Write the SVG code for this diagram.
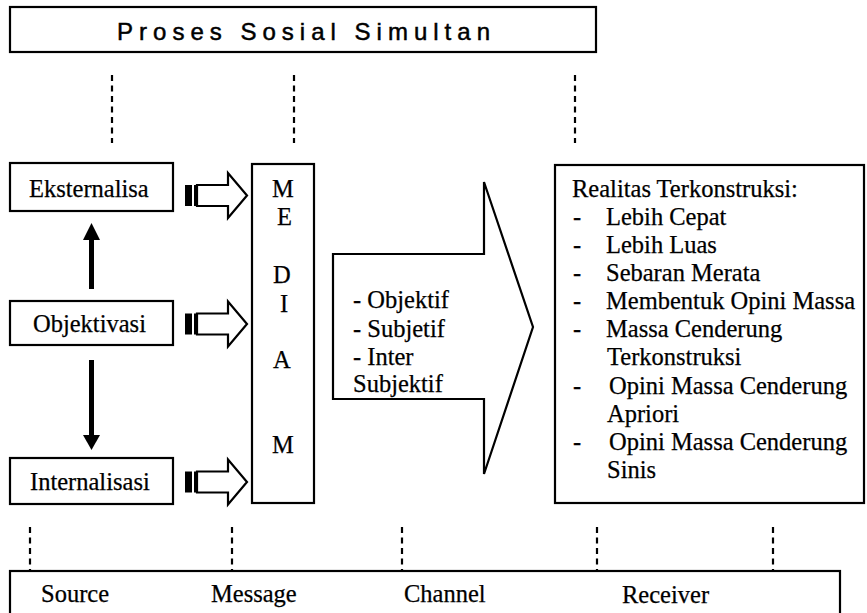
<svg xmlns="http://www.w3.org/2000/svg" width="867" height="613" viewBox="0 0 867 613">
  <style>
    .box { fill: #fff; stroke: #000; stroke-width: 2.2; }
    text { fill: #000; }
    .t { font-family: 'Liberation Serif', 'DejaVu Serif', serif; font-size: 24.5px; stroke: #000; stroke-width: 0.25; }
    .title { font-family: 'Liberation Sans Narrow', 'Liberation Sans', sans-serif; font-size: 24px; stroke: #000; stroke-width: 0.5; }
    .dash { stroke: #000; stroke-width: 2.2; stroke-dasharray: 6 4.5; fill: none; }
    .blk { fill: #000; }
    .outline { fill: #fff; stroke: #000; stroke-width: 2.2; stroke-linejoin: miter; }
  </style>
  <defs>
    <!-- striped block arrow, centred on y=0 -->
    <g id="striped-arrow">
      <rect class="blk" x="185" y="-10.5" width="7" height="21"/>
      <rect class="blk" x="194" y="-10.5" width="3" height="21"/>
      <polygon class="outline" points="197,-10.5 228,-10.5 228,-22.5 247,0 228,22.5 228,10.5 197,10.5"/>
    </g>
  </defs>
  <rect width="867" height="613" fill="#fff"/>

  <!-- header -->
  <g id="proses-sosial">
    <rect class="box" x="10" y="7" width="586" height="45" stroke-width="2.6"/>
    <text class="title" font-family="Liberation Sans Narrow, Liberation Sans, sans-serif" x="117" y="40" textLength="373" lengthAdjust="spacing">Proses Sosial Simultan</text>
  </g>

  <g font-family="Liberation Serif, DejaVu Serif, serif" font-size="24.5">
  <!-- source-side stages -->
  <g id="eksternalisa">
    <rect class="box" x="10" y="163" width="163" height="48"/>
    <text class="t" x="29" y="197">Eksternalisa</text>
  </g>
  <g id="objektivasi">
    <rect class="box" x="10" y="301" width="163" height="44"/>
    <text class="t" x="33" y="332">Objektivasi</text>
  </g>
  <g id="internalisasi">
    <rect class="box" x="10" y="458" width="163" height="46"/>
    <text class="t" x="30" y="490">Internalisasi</text>
  </g>

  <!-- media column -->
  <g id="media">
    <rect class="box" x="252" y="164" width="62" height="339"/>
    <text class="t" x="272" y="197">M</text>
    <text class="t" x="277" y="225">E</text>
    <text class="t" x="273" y="283">D</text>
    <text class="t" x="280" y="312">I</text>
    <text class="t" x="273" y="368">A</text>
    <text class="t" x="272" y="453">M</text>
  </g>

  <!-- channel arrow -->
  <g id="channel-arrow">
    <polygon class="outline" points="333,254 484,254 484,182 533,327 484,474 484,399 333,399" stroke-width="2.6"/>
    <text class="t" x="353" y="308">- Objektif</text>
    <text class="t" x="353" y="337">- Subjetif</text>
    <text class="t" x="353" y="365">- Inter</text>
    <text class="t" x="353" y="392">Subjektif</text>
  </g>

  <!-- receiver -->
  <g id="realitas">
    <rect class="box" x="555" y="165" width="309" height="338"/>
    <text class="t" x="572" y="197">Realitas Terkonstruksi:</text>
    <text class="t" x="573" y="225">-</text><text class="t" x="606" y="225">Lebih Cepat</text>
    <text class="t" x="573" y="253">-</text><text class="t" x="606" y="253">Lebih Luas</text>
    <text class="t" x="573" y="281">-</text><text class="t" x="606" y="281">Sebaran Merata</text>
    <text class="t" x="573" y="309">-</text><text class="t" x="606" y="309">Membentuk Opini Massa</text>
    <text class="t" x="573" y="337">-</text><text class="t" x="606" y="337">Massa Cenderung</text>
    <text class="t" x="607" y="365">Terkonstruksi</text>
    <text class="t" x="573" y="394">-</text><text class="t" x="609" y="394">Opini Massa Cenderung</text>
    <text class="t" x="607" y="422">Apriori</text>
    <text class="t" x="573" y="450">-</text><text class="t" x="609" y="450">Opini Massa Cenderung</text>
    <text class="t" x="607" y="478">Sinis</text>
  </g>

  <!-- footer -->
  <g id="smcr">
    <rect class="box" x="10" y="571" width="830" height="60"/>
    <text class="t" x="41" y="602">Source</text>
    <text class="t" x="211" y="602">Message</text>
    <text class="t" x="404" y="602">Channel</text>
    <text class="t" x="622" y="603">Receiver</text>
  </g>
  </g>

  <g id="connectors">
    <!-- dotted guides -->
    <line class="dash" x1="112" y1="75" x2="112" y2="143"/>
    <line class="dash" x1="294" y1="75" x2="294" y2="143"/>
    <line class="dash" x1="575" y1="75" x2="575" y2="143"/>
    <line class="dash" x1="30" y1="527" x2="30" y2="570"/>
    <line class="dash" x1="232" y1="527" x2="232" y2="570"/>
    <line class="dash" x1="402" y1="527" x2="402" y2="570"/>
    <line class="dash" x1="597" y1="527" x2="597" y2="570"/>
    <line class="dash" x1="773" y1="527" x2="773" y2="570"/>

    <!-- objektivasi to the other stages -->
    <rect class="blk" x="89" y="238" width="5" height="51"/>
    <polygon class="blk" points="83,240 100,240 91.5,223"/>
    <rect class="blk" x="89" y="360" width="5" height="77"/>
    <polygon class="blk" points="83,435 100,435 91.5,450"/>

    <!-- stages into media -->
    <use href="#striped-arrow" y="195.5"/>
    <use href="#striped-arrow" y="324"/>
    <use href="#striped-arrow" y="482"/>
  </g>
</svg>
